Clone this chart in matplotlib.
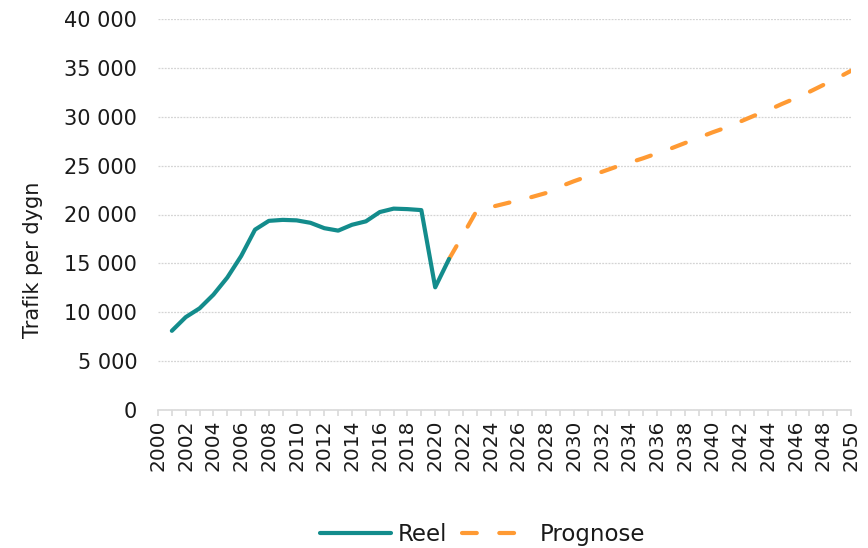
import matplotlib
matplotlib.use("Agg")
import matplotlib.pyplot as plt
from matplotlib.ticker import FuncFormatter, MultipleLocator

reel_years = list(range(2001, 2022))
reel_values = [8100, 9500, 10400, 11800, 13550, 15750, 18450, 19350, 19450, 19400,
               19150, 18600, 18350, 18950, 19300, 20250, 20600, 20550, 20450, 12550, 15450]

prog_years = list(range(2021, 2051))
prog_values = [15450, 17900, 20400, 20750, 21100, 21450, 21800, 22200, 22850, 23400,
               23900, 24350, 24850, 25300, 25750, 26250, 26750, 27300, 27850, 28400,
               28900, 29500, 30100, 30650, 31300, 31900, 32550, 33250, 33950, 34700]

y_ticks = [0, 5000, 10000, 15000, 20000, 25000, 30000, 35000, 40000]

teal = "#138C8C"
orange = "#FF9A33"

fig = plt.figure(figsize=(8.68, 5.48), dpi=100)
ax = fig.add_axes([158/868, 1-410/548, (851-158)/868, (410-19)/548])

ax.plot(reel_years, reel_values, color=teal, lw=3, solid_capstyle="round",
        solid_joinstyle="round", label="Reel", zorder=3)
ax.plot(prog_years, prog_values, color=orange, lw=3, linestyle=(0, (3.55, 5.4)),
        dash_capstyle="round", label="Prognose", zorder=2)

ax.set_xlim(2000, 2050)
ax.set_ylim(0, 40000)
ax.set_yticks(y_ticks)
ax.yaxis.set_major_formatter(FuncFormatter(lambda v, p: f"{int(v):,}".replace(",", " ")))
ax.xaxis.set_major_locator(MultipleLocator(1))
ax.xaxis.set_major_formatter(FuncFormatter(lambda v, p: f"{int(round(v))}" if int(round(v)) % 2 == 0 else ""))

ax.grid(axis="y", color="#d4d4d4", lw=0.9, linestyle=(0, (1.5, 1)))
ax.set_axisbelow(True)
for s in ["top", "right", "left"]:
    ax.spines[s].set_visible(False)
ax.spines["bottom"].set_color("#d9d9d9")
ax.spines["bottom"].set_linewidth(1.2)

ax.tick_params(axis="y", length=0, pad=15, labelsize=15, labelcolor="#1a1a1a")
ax.tick_params(axis="x", length=4, width=1.2, color="#d9d9d9", direction="out",
               pad=3, labelsize=14.5, labelrotation=90, labelcolor="#1a1a1a")

fig.text(33/868, 1-260/548, "Trafik per dygn", rotation=90, fontsize=15,
         ha="center", va="center", color="#1a1a1a")

fig.legend(loc="center", bbox_to_anchor=(0.556, 0.024), ncol=2, frameon=False,
           fontsize=16.5, handlelength=3.1, handletextpad=0.3, columnspacing=0.65,
           labelcolor="#1a1a1a")

fig.savefig("out.png", dpi=100)
